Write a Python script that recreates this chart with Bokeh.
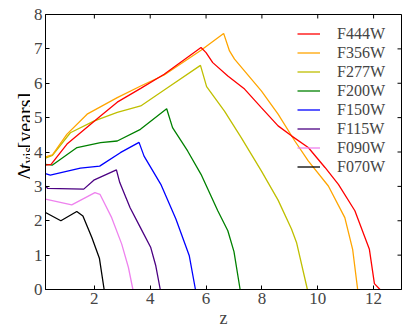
import math
from bokeh.plotting import figure
from bokeh.layouts import row
from bokeh.models import (Range1d, FixedTicker, Legend, LegendItem)
from bokeh.core.properties import value
from bokeh.embed import file_html
from bokeh.resources import INLINE

# ---------------- data ----------------
filters = ["F444W", "F356W", "F277W", "F200W", "F150W", "F115W", "F090W", "F070W"]
colors = ["#FF0000", "#FFA500", "#BFBF00", "#008000", "#0000FF", "#4B0082", "#EE82EE", "#000000"]

z_f444w = [0.25, 0.45, 1.02, 2.22, 2.82, 3.66, 4.5, 5.82, 6.0, 6.24, 6.78, 7.38, 7.98, 8.58, 9.06, 9.66, 10.26, 10.74, 11.33, 11.85, 12.03, 12.23]
t_f444w = [3.62, 3.64, 4.23, 5.05, 5.45, 5.85, 6.26, 7.04, 6.89, 6.6, 6.21, 5.83, 5.29, 4.76, 4.47, 4.13, 3.55, 3.06, 2.29, 1.17, 0.17, 0.0]

z_f356w = [0.25, 0.5, 1.02, 1.74, 2.82, 3.66, 4.5, 5.82, 6.63, 6.84, 7.02, 7.98, 8.58, 9.18, 9.66, 10.38, 10.97, 11.25, 11.43]
t_f356w = [3.86, 3.92, 4.52, 5.1, 5.58, 5.92, 6.24, 6.96, 7.45, 6.94, 6.7, 5.78, 5.1, 4.32, 3.74, 3.01, 2.09, 1.17, 0.0]

z_f277w = [0.25, 0.5, 1.14, 1.98, 2.82, 3.66, 4.62, 5.8, 6.02, 6.66, 7.26, 7.98, 8.58, 9.06, 9.24, 9.63]
t_f277w = [3.82, 3.9, 4.56, 4.9, 5.15, 5.34, 5.87, 6.52, 5.9, 5.19, 4.42, 3.45, 2.6, 1.76, 1.37, 0.0]

z_f200w = [0.25, 0.5, 1.38, 2.22, 2.82, 3.65, 4.59, 4.8, 5.34, 5.82, 6.42, 6.78, 7.0, 7.22]
t_f200w = [3.64, 3.62, 4.13, 4.27, 4.32, 4.66, 5.26, 4.71, 4.03, 3.35, 2.29, 1.71, 1.1, 0.0]

z_f150w = [0.25, 0.42, 1.5, 2.19, 2.93, 3.6, 3.78, 4.38, 4.92, 5.4, 5.62]
t_f150w = [3.37, 3.33, 3.53, 3.59, 3.98, 4.28, 3.88, 3.06, 2.05, 0.98, 0.0]

z_f115w = [0.25, 0.33, 1.62, 1.98, 2.79, 2.91, 3.28, 3.65, 4.02, 4.2, 4.36]
t_f115w = [3.01, 2.94, 2.92, 3.18, 3.48, 3.11, 2.38, 1.80, 1.22, 0.69, 0.0]

z_f090w = [0.25, 1.19, 2.02, 2.2, 2.62, 2.98, 3.22, 3.38]
t_f090w = [2.63, 2.46, 2.82, 2.77, 2.09, 1.32, 0.64, 0.0]

z_f070w = [0.25, 0.8, 1.37, 1.59, 1.91, 2.18, 2.35]
t_f070w = [2.24, 2.0, 2.27, 2.14, 1.51, 0.91, 0.0]

series_z = [z_f444w, z_f356w, z_f277w, z_f200w, z_f150w, z_f115w, z_f090w, z_f070w]
series_t = [t_f444w, t_f356w, t_f277w, t_f200w, t_f150w, t_f115w, t_f090w, t_f070w]

x_ticks = [2, 4, 6, 8, 10, 12]
y_ticks = [0, 1, 2, 3, 4, 5, 6, 7, 8]
x_lim = (0.25, 13)
y_lim = (0, 8)

FONT = "Liberation Serif"
W, H = 409, 327
LBL_W = 30

# ---------------- main figure ----------------
p = figure(output_backend="svg", toolbar_location=None,
           x_range=Range1d(*x_lim), y_range=Range1d(*y_lim),
           frame_width=356, frame_height=275,
           min_border_left=45 - LBL_W, min_border_right=8, min_border_top=14, min_border_bottom=38)
p.grid.visible = False
p.outline_line_color = "black"
p.outline_line_width = 1
p.background_fill_color = "white"

for ax in p.xaxis + p.yaxis:
    ax.major_tick_in = 4
    ax.major_tick_out = 0
    ax.minor_tick_line_color = None
    ax.major_label_text_font = FONT
    ax.major_label_text_font_size = "17px"
    ax.axis_line_color = "black"
p.xaxis.ticker = FixedTicker(ticks=x_ticks)
p.yaxis.ticker = FixedTicker(ticks=y_ticks)
p.xaxis.major_label_standoff = 3
p.yaxis.major_label_standoff = 3

p.xaxis.axis_label = "z"
p.xaxis.axis_label_text_font = FONT
p.xaxis.axis_label_text_font_style = "normal"
p.xaxis.axis_label_text_font_size = "18px"
p.xaxis.axis_label_standoff = 1

# mirrored inward ticks on top and right edges (half of each dash is clipped by the frame)
p.scatter(x_ticks, [y_lim[1]] * len(x_ticks), marker="dash", angle=math.pi / 2,
          size=8, line_color="black", line_width=1)
p.scatter([x_lim[1]] * len(y_ticks), y_ticks, marker="dash",
          size=8, line_color="black", line_width=1)

renderers = {}
for name, col, zs, ts in reversed(list(zip(filters, colors, series_z, series_t))):
    renderers[name] = p.line(zs, ts, line_color=col, line_width=1.3)

items = [LegendItem(label=n, renderers=[renderers[n]]) for n in filters]
legend = Legend(items=items, location=(252, 113), border_line_color=None,
                background_fill_alpha=0, padding=0, margin=0, spacing=0,
                glyph_width=23, glyph_height=19, label_height=19, label_standoff=17,
                label_text_font=FONT, label_text_font_size="16px")
p.add_layout(legend)

# ---------------- y-axis label strip (Δt_vis [years]) ----------------
q = figure(output_backend="svg", toolbar_location=None, width=LBL_W, height=H,
           x_range=Range1d(0, LBL_W), y_range=Range1d(0, H),
           x_axis_type=None, y_axis_type=None,
           min_border=0, min_border_left=0, min_border_right=0,
           min_border_top=0, min_border_bottom=0)
q.grid.visible = False
q.outline_line_color = None
q.background_fill_color = "white"
q.border_fill_color = "white"

ang = math.pi / 2
# (x = baseline position, y = start of the run measured from the bottom of the strip)
q.text(x=[24], y=[H - 199], text=["Δ"], angle=ang, text_font=value(FONT),
       text_font_size="20px", text_align="left", text_baseline="alphabetic", text_color="black")
q.text(x=[24], y=[H - 186], text=["t"], angle=ang, text_font=value(FONT), text_font_style="italic",
       text_font_size="20px", text_align="left", text_baseline="alphabetic", text_color="black")
q.text(x=[27.5], y=[H - 179], text=["vis"], angle=ang, text_font=value(FONT),
       text_font_size="14px", text_align="left", text_baseline="alphabetic", text_color="black")
q.text(x=[24], y=[H - 161], text=["[years]"], angle=ang, text_font=value(FONT),
       text_font_size="20px", text_align="left", text_baseline="alphabetic", text_color="black")

layout = row(q, p, spacing=0)
open("out.html", "w").write(file_html(layout, INLINE))
